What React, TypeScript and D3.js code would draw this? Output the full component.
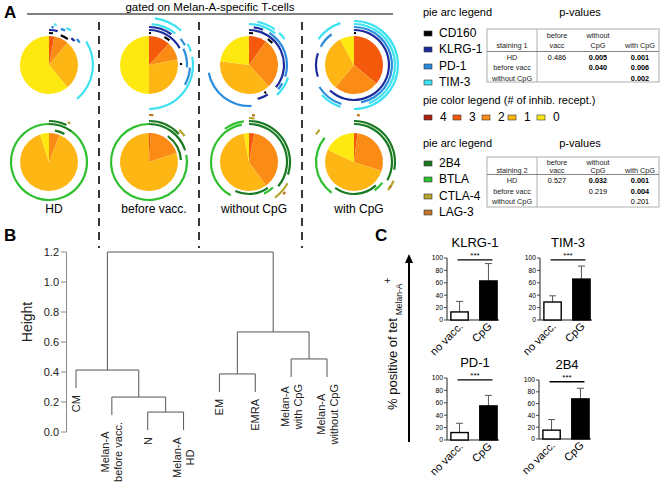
import React from "react";
import * as d3 from "d3";

// ---------------- DATA ----------------
const pieGroups = ["HD", "before vacc.", "without CpG", "with CpG"];
const receptorCounts = ["4", "3", "2", "1", "0"];
const pieColors = ["#a8200e", "#f55a0c", "#fa8c16", "#fdb614", "#fde810"];
// slice fractions for # inhibitory receptors [4,3,2,1,0]
const stain1Slices = [
  [0, 0.03, 0.08, 0.28, 0.61],
  [0, 0.12, 0.1, 0.28, 0.5],
  [0, 0.1, 0.28, 0.39, 0.23],
  [0, 0.36, 0.25, 0.31, 0.08],
];
const stain2Slices = [
  [0, 0, 0.06, 0.89, 0.05],
  [0, 0.01, 0.19, 0.8, 0],
  [0, 0.03, 0.37, 0.57, 0.03],
  [0, 0.02, 0.28, 0.52, 0.18],
];
const stain1Markers = ["CD160", "KLRG-1", "PD-1", "TIM-3"];
const stain1Colors = ["#000000", "#1c2c9c", "#2a8cdc", "#3ce2f2"];
const stain2Markers = ["2B4", "BTLA", "CTLA-4", "LAG-3"];
const stain2Colors = ["#1a7a22", "#2fc02f", "#b6a52a", "#c2762c"];
// arcs: [marker index, ring, start fraction, end fraction]
const stain1Arcs = [
  [[0,0,0.0,0.02],[0,0,0.06,0.1],[1,1,0.0,0.04],[1,1,0.11,0.13],[2,2,0.01,0.02],[2,2,0.05,0.07],[2,2,0.13,0.15],[3,3,0.02,0.03],[3,3,0.07,0.09],[3,4,0.16,0.39]],
  [[0,0,0.0,0.01],[0,0,0.08,0.11],[0,0,0.24,0.25],[1,1,0.0,0.17],[1,2,0.0,0.1],[2,3,0.14,0.17],[2,2,0.18,0.26],[2,3,0.26,0.33],[3,3,0.01,0.11],[3,5,0.02,0.12],[3,4,0.17,0.2],[3,4,0.22,0.5]],
  [[0,0,0.0,0.02],[0,0,0.1,0.13],[0,0,0.41,0.42],[1,1,0.0,0.36],[1,1,0.41,0.46],[1,2,0.02,0.06],[2,2,0.09,0.3],[2,3,0.49,0.72],[3,3,0.0,0.11],[3,4,0.03,0.1],[3,4,0.12,0.15],[3,3,0.3,0.38],[2,2,0.33,0.36]],
  [[0,0,0.0,0.01],[1,1,0.0,0.62],[1,2,0.7,0.8],[2,2,0.0,0.47],[2,3,0.55,0.66],[2,2,0.83,0.9],[3,3,0.0,0.44],[3,4,0.0,0.5],[3,4,0.55,0.63],[3,4,0.85,0.95]],
];
const stain2Arcs = [
  [[1,2,0.1,1.0],[0,2,0.0,0.1],[0,3,0.0,0.07],[0,0,0.03,0.08],[2,4,0.07,0.08]],
  [[1,2,0.22,1.0],[0,2,0.0,0.2],[0,3,0.0,0.13],[0,0,0.1,0.24],[2,4,0.12,0.15],[3,5,0.0,0.015]],
  [[1,2,0.58,0.97],[1,3,0.9,0.98],[0,2,0.0,0.36],[0,3,0.0,0.3],[0,0,0.4,0.57],[1,1,0.38,0.43],[2,4,0.33,0.4],[3,5,0.36,0.37],[2,4,0.0,0.02],[3,5,0.01,0.02]],
  [[1,2,0.6,0.86],[0,2,0.0,0.33],[0,3,0.0,0.28],[0,0,0.38,0.6],[1,1,0.35,0.4],[2,4,0.32,0.36],[2,5,0.85,0.87],[3,5,0.01,0.02],[3,4,0.34,0.35]],
];

const pvalCols = ["before\nvacc", "without\nCpG", "with CpG"];
const pvalRows = ["HD", "before vacc", "without CpG"];
const pvals1 = [["0.486", "0.005", "0.001"], ["", "0.040", "0.006"], ["", "", "0.002"]];
const pvals1Bold = [[false, true, true], [false, true, true], [false, false, true]];
const pvals2 = [["0.527", "0.032", "0.001"], ["", "0.219", "0.004"], ["", "", "0.201"]];
const pvals2Bold = [[false, true, true], [false, false, true], [false, false, false]];

// dendrogram
const leafLabels = [["CM"], ["Melan-A", "before vacc."], ["N"], ["Melan-A", "HD"], ["EM"], ["EMRA"], ["Melan-A", "with CpG"], ["Melan-A", "without CpG"]];
// R-style merge: negative = leaf (1-based), positive = earlier merge (1-based)
const mergeLeft = [-3, -2, -1, -5, -7, 4, 3];
const mergeRight = [-4, 1, 2, -6, -8, 5, 6];
const mergeHeight = [0.133, 0.233, 0.413, 0.387, 0.487, 0.667, 1.2];
const heightTicks = [0, 0.2, 0.4, 0.6, 0.8, 1.0, 1.2];

// panel C
const barTitles = ["KLRG-1", "TIM-3", "PD-1", "2B4"];
const barCats = ["no vacc.", "CpG"];
const noVaccMean = [13, 29, 12, 15];
const noVaccTop = [30, 39, 27, 33];
const cpgMean = [63, 66, 55, 68];
const cpgTop = [91, 87, 72, 86];
const pctTicks = [0, 20, 40, 60, 80, 100];

// ---------------- LAYOUT ----------------
const FONT = "Liberation Sans, Arial, sans-serif";
const W = 662, H = 483;
const PR = 29;
const pieX = [49, 149, 249, 354];
const pieY = [65, 162];
const ringR = (ring: number) => 32 + 3 * ring;

let _ctx: CanvasRenderingContext2D | null = null;
function textW(t: string, size: number) {
  if (!_ctx) _ctx = document.createElement("canvas").getContext("2d");
  if (!_ctx) return t.length * size * 0.55;
  _ctx.font = `${size}px ${FONT}`;
  return _ctx.measureText(t).width;
}

function Pie({ cx, cy, slices, arcs, colors }: any) {
  const pie = d3.pie<number>().sort(null).value((d) => d);
  const arcGen = d3.arc<any>().innerRadius(0).outerRadius(PR);
  const ringArc = d3.arc<any>();
  return (
    <g transform={`translate(${cx},${cy})`}>
      {pie(slices).map((s, i) => (
        <path key={i} d={arcGen(s) || ""} fill={pieColors[i]} />
      ))}
      {arcs.map((a: number[], i: number) => {
        const r = ringR(a[1]);
        const d = ringArc({ innerRadius: r - 1.1, outerRadius: r + 1.1, startAngle: a[2] * 2 * Math.PI, endAngle: a[3] * 2 * Math.PI });
        return <path key={"a" + i} d={d || ""} fill={colors[a[0]]} />;
      })}
    </g>
  );
}

function PTable({ x, y, w, vals, bold, stain, rowY, headY, lineY, h }: any) {
  const colX = [557, 598, 640];
  return (
    <g fontFamily={FONT} fontSize={7.3} fill="#000" textAnchor="middle">
      <rect x={x} y={y} width={w} height={h} fill="none" stroke="#999" strokeWidth={0.8} />
      <line x1={537} x2={537} y1={y} y2={y + h} stroke="#999" strokeWidth={0.8} />
      <line x1={x} x2={x + w} y1={lineY} y2={lineY} stroke="#666" strokeWidth={0.8} />
      <text x={512} y={headY[1]} fill="#222">{stain}</text>
      {pvalCols.map((c, i) => {
        const parts = c.split("\n");
        return parts.length === 2 ? (
          <g key={i} fill="#222">
            <text x={colX[i]} y={headY[0]}>{parts[0]}</text>
            <text x={colX[i]} y={headY[1]}>{parts[1]}</text>
          </g>
        ) : (
          <text key={i} x={colX[i]} y={headY[1]} fill="#222">{c}</text>
        );
      })}
      {pvalRows.map((r, i) => (
        <g key={r}>
          <text x={512} y={rowY[i]} fill="#222">{r}</text>
          {vals[i].map((v: string, j: number) => (
            <text key={j} x={colX[j]} y={rowY[i]} fill="#000" fontWeight={bold[i][j] ? "bold" : "normal"}>{v}</text>
          ))}
        </g>
      ))}
    </g>
  );
}

function Legend({ y0, names, colors, ys }: any) {
  return (
    <g fontFamily={FONT}>
      <text x={423} y={y0} fontSize={11}>pie arc legend</text>
      <text x={580} y={y0} fontSize={11} textAnchor="middle">p-values</text>
      {names.map((n: string, i: number) => (
        <g key={n}>
          <rect x={424} y={ys[i] - 6} width={8} height={5} fill={colors[i]} stroke="#333" strokeWidth={0.6} />
          <text x={439} y={ys[i]} fontSize={12}>{n}</text>
        </g>
      ))}
    </g>
  );
}

function BarChart({ ax, y0, y100, i }: any) {
  const y = d3.scaleLinear().domain([0, 100]).range([y0, y100]);
  const means = [noVaccMean[i], cpgMean[i]];
  const tops = [noVaccTop[i], cpgTop[i]];
  const x = d3.scaleBand().domain(barCats).range([ax + 1, ax + 53]).paddingInner(0.4).paddingOuter(0.1);
  const bw = x.bandwidth();
  const sigY = y(97);
  const x1 = (x(barCats[0]) as number) + bw / 2 - 2;
  const x2 = (x(barCats[1]) as number) + bw / 2 + 4;
  return (
    <g fontFamily={FONT}>
      <text x={(ax + ax + 52) / 2 + 2} y={y100 - 11} fontSize={13} textAnchor="middle">{barTitles[i]}</text>
      <line x1={ax} x2={ax} y1={y100} y2={y0} stroke="#222" strokeWidth={1} />
      <line x1={ax} x2={ax + 52} y1={y0} y2={y0} stroke="#222" strokeWidth={1} />
      {pctTicks.map((t) => (
        <g key={t}>
          <line x1={ax - 3} x2={ax} y1={y(t)} y2={y(t)} stroke="#222" strokeWidth={0.8} />
          <text x={ax - 4} y={y(t) + 2.4} fontSize={6.8} textAnchor="end">{t}</text>
        </g>
      ))}
      {barCats.map((c, k) => {
        const bx = x(c) as number;
        const cxm = bx + bw / 2;
        return (
          <g key={c}>
            <line x1={cxm} x2={cxm} y1={y(means[k])} y2={y(tops[k])} stroke="#555" strokeWidth={1} />
            <line x1={cxm - 3.5} x2={cxm + 3.5} y1={y(tops[k])} y2={y(tops[k])} stroke="#555" strokeWidth={1} />
            <rect x={bx} y={y(means[k])} width={bw} height={y0 - y(means[k])} fill={k === 0 ? "#fff" : "#000"} stroke="#000" strokeWidth={1.4} />
            <text transform={`translate(${cxm + 4},${y0 + 7}) rotate(-45)`} fontSize={11} textAnchor="end">{c}</text>
          </g>
        );
      })}
      <line x1={x1} x2={x2} y1={sigY} y2={sigY} stroke="#000" strokeWidth={1.3} />
      <text x={(x1 + x2) / 2} y={sigY - 2} fontSize={8} textAnchor="middle">***</text>
    </g>
  );
}

function Dendrogram() {
  const yS = d3.scaleLinear().domain([0, 1.2]).range([432, 252]);
  const xS = d3.scalePoint<number>().domain(d3.range(leafLabels.length)).range([76, 327]);
  const hang = 0.12;
  const nodeX: number[] = [];
  const segs: { x1: number; y1: number; x2: number; y2: number }[] = [];
  const leafEnds: { x: number; y: number; i: number }[] = [];
  const childPos = (c: number, parentH: number) => {
    if (c < 0) {
      const li = -c - 1;
      const lx = xS(li) as number;
      const ly = yS(parentH - hang);
      leafEnds.push({ x: lx, y: ly, i: li });
      return { x: lx, y: ly };
    }
    return { x: nodeX[c - 1], y: yS(mergeHeight[c - 1]) };
  };
  mergeHeight.forEach((h, m) => {
    const a = childPos(mergeLeft[m], h);
    const b = childPos(mergeRight[m], h);
    const yy = yS(h);
    nodeX[m] = (a.x + b.x) / 2;
    segs.push({ x1: a.x, y1: a.y, x2: a.x, y2: yy });
    segs.push({ x1: b.x, y1: b.y, x2: b.x, y2: yy });
    segs.push({ x1: a.x, y1: yy, x2: b.x, y2: yy });
  });
  return (
    <g fontFamily={FONT}>
      {segs.map((s, i) => (
        <line key={i} x1={s.x1} y1={s.y1} x2={s.x2} y2={s.y2} stroke="#555" strokeWidth={1} />
      ))}
      <line x1={66.5} x2={66.5} y1={yS(1.2)} y2={yS(0)} stroke="#888" strokeWidth={1} />
      {heightTicks.map((t) => (
        <g key={t}>
          <line x1={61} x2={66.5} y1={yS(t)} y2={yS(t)} stroke="#888" strokeWidth={1} />
          <text x={59} y={yS(t) + 4} fontSize={11} textAnchor="end" fill="#222">{d3.format(".1f")(t)}</text>
        </g>
      ))}
      <text transform={`translate(32,${yS(0.6) - 20}) rotate(-90)`} fontSize={14} textAnchor="middle" fill="#222">Height</text>
      {leafEnds.map((l) => {
        const lines = leafLabels[l.i];
        const mw = d3.max(lines, (t) => textW(t, 11)) as number;
        const cy = l.y + 7 + mw / 2;
        return (
          <g key={l.i}>
            {lines.map((t, k) => (
              <text key={k} transform={`translate(${l.x + (k - (lines.length - 1) / 2) * 13 + 4},${cy}) rotate(-90)`} fontSize={11} textAnchor="middle" fill="#222">{t}</text>
            ))}
          </g>
        );
      })}
    </g>
  );
}

export default function App() {
  return (
    <svg width={W} height={H} style={{ position: "absolute", left: 0, top: 0, background: "#fff" }}>
      <rect width={W} height={H} fill="#fff" />
      {/* Panel A */}
      <text x={4} y={18} fontFamily={FONT} fontWeight="bold" fontSize={17}>A</text>
      <text x={210} y={11} fontFamily={FONT} fontSize={11.5} textAnchor="middle">gated on Melan-A-specific T-cells</text>
      <line x1={27} x2={393} y1={14} y2={14} stroke="#000" strokeWidth={1} />
      {[99, 199, 302].map((x) => (
        <line key={x} x1={x} x2={x} y1={22} y2={248} stroke="#222" strokeWidth={1.8} strokeDasharray="8,6" />
      ))}
      {pieGroups.map((g, i) => (
        <g key={g}>
          <Pie cx={pieX[i]} cy={pieY[0]} slices={stain1Slices[i]} arcs={stain1Arcs[i]} colors={stain1Colors} />
          <Pie cx={pieX[i]} cy={pieY[1]} slices={stain2Slices[i]} arcs={stain2Arcs[i]} colors={stain2Colors} />
          <text x={pieX[i] + 5} y={213} fontFamily={FONT} fontSize={12} textAnchor="middle">{g}</text>
        </g>
      ))}
      {/* legends */}
      <Legend y0={16} names={stain1Markers} colors={stain1Colors} ys={[37, 53, 70, 86]} />
      <PTable x={487} y={29} w={172} h={53} vals={pvals1} bold={pvals1Bold} stain="staining 1" headY={[38, 48]} lineY={51.5} rowY={[59.5, 70, 80.5]} />
      <text x={423} y={104} fontFamily={FONT} fontSize={11}>pie color legend (# of inhib. recept.)</text>
      {receptorCounts.map((c, i) => {
        const lx = [424, 453, 482, 508, 537][i];
        return (
          <g key={c} fontFamily={FONT}>
            <rect x={lx} y={115} width={8} height={5} fill={pieColors[i]} stroke="#333" strokeWidth={0.6} />
            <text x={lx + 16} y={121} fontSize={12}>{c}</text>
          </g>
        );
      })}
      <Legend y0={147} names={stain2Markers} colors={stain2Colors} ys={[167, 183, 200, 216]} />
      <PTable x={487} y={157} w={172} h={50} vals={pvals2} bold={pvals2Bold} stain="staining 2" headY={[165, 173]} lineY={174.5} rowY={[182.5, 193.5, 204]} />

      {/* Panel B */}
      <text x={4} y={241} fontFamily={FONT} fontWeight="bold" fontSize={17}>B</text>
      <Dendrogram />

      {/* Panel C */}
      <text x={375} y={241} fontFamily={FONT} fontWeight="bold" fontSize={17}>C</text>
      <line x1={409} x2={409} y1={442} y2={261} stroke="#000" strokeWidth={2} />
      <path d="M409,254 L405,263 L413,263 Z" fill="#000" />
      <text transform="translate(397,410) rotate(-90)" fontFamily={FONT} fontSize={13} fill="#111">
        % positive of tet
        <tspan dx={3} dy={5} fontSize={8.5}>Melan-A</tspan>
        <tspan dy={-11} fontSize={10}>+</tspan>
      </text>
      <BarChart ax={447} y0={320} y100={258} i={0} />
      <BarChart ax={540} y0={320} y100={258} i={1} />
      <BarChart ax={447} y0={440} y100={378} i={2} />
      <BarChart ax={539} y0={439} y100={380} i={3} />
    </svg>
  );
}
